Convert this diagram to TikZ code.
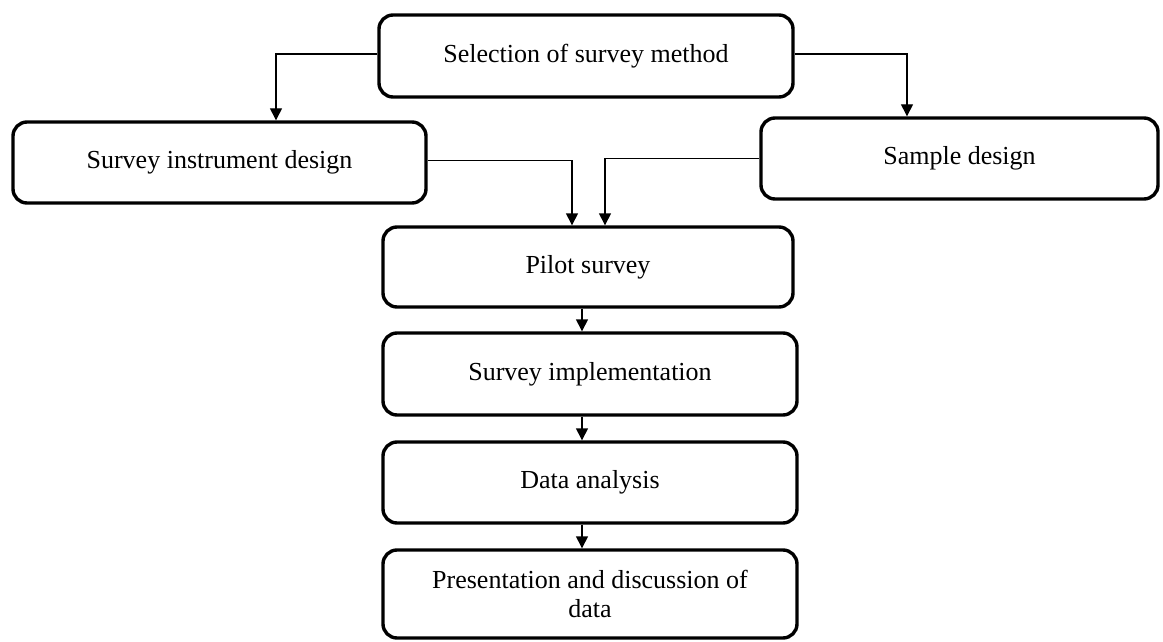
\documentclass[tikz,border=0pt]{standalone}
\usepackage{fontspec}
\setmainfont{Liberation Serif}
\usetikzlibrary{arrows.meta}
\begin{document}
\begin{tikzpicture}[x=1pt,y=-1pt,
  box/.style={draw=black, line width=3.4pt, rounded corners=14pt, fill=white,
    align=center, inner sep=0pt, font=\fontsize{26}{29}\selectfont},
  arr/.style={line width=1.4pt, -{Triangle[width=12pt,length=12pt]}}]
\useasboundingbox[fill=white] (0,0) rectangle (1163,642);
\node[box, minimum width=414pt, minimum height=82pt] (top) at (586,56) {Selection of survey method};
\node[box, minimum width=413pt, minimum height=81pt] (left) at (219.5,162.5) {Survey instrument design};
\node[box, minimum width=397pt, minimum height=81pt] (sample) at (959.5,158.5) {Sample design};
\node[box, minimum width=410pt, minimum height=80pt] (pilot) at (588,267) {Pilot survey};
\node[box, minimum width=414pt, minimum height=82pt] (impl) at (590,374) {Survey implementation};
\node[box, minimum width=414pt, minimum height=81pt] (data) at (590,482.5) {Data analysis};
\node[box, minimum width=414pt, minimum height=88pt] (pres) at (590,594) {Presentation and discussion of\\data};
\coordinate (cl) at (276,0);
\coordinate (cr) at (907,0);
\coordinate (pl) at (572,0);
\coordinate (pr) at (605,0);
\coordinate (cm) at (582,0);
\draw[arr] ([yshift=2pt]top.west) -| (left.north -| cl);
\draw[arr] ([yshift=2pt]top.east) -| (sample.north -| cr);
\draw[arr] ([yshift=2pt]left.east) -| (pilot.north -| pl);
\draw[arr] (sample.west) -| (pilot.north -| pr);
\draw[arr] (pilot.south -| cm) -- (impl.north -| cm);
\draw[arr] (impl.south -| cm) -- (data.north -| cm);
\draw[arr] (data.south -| cm) -- (pres.north -| cm);
\end{tikzpicture}
\end{document}
